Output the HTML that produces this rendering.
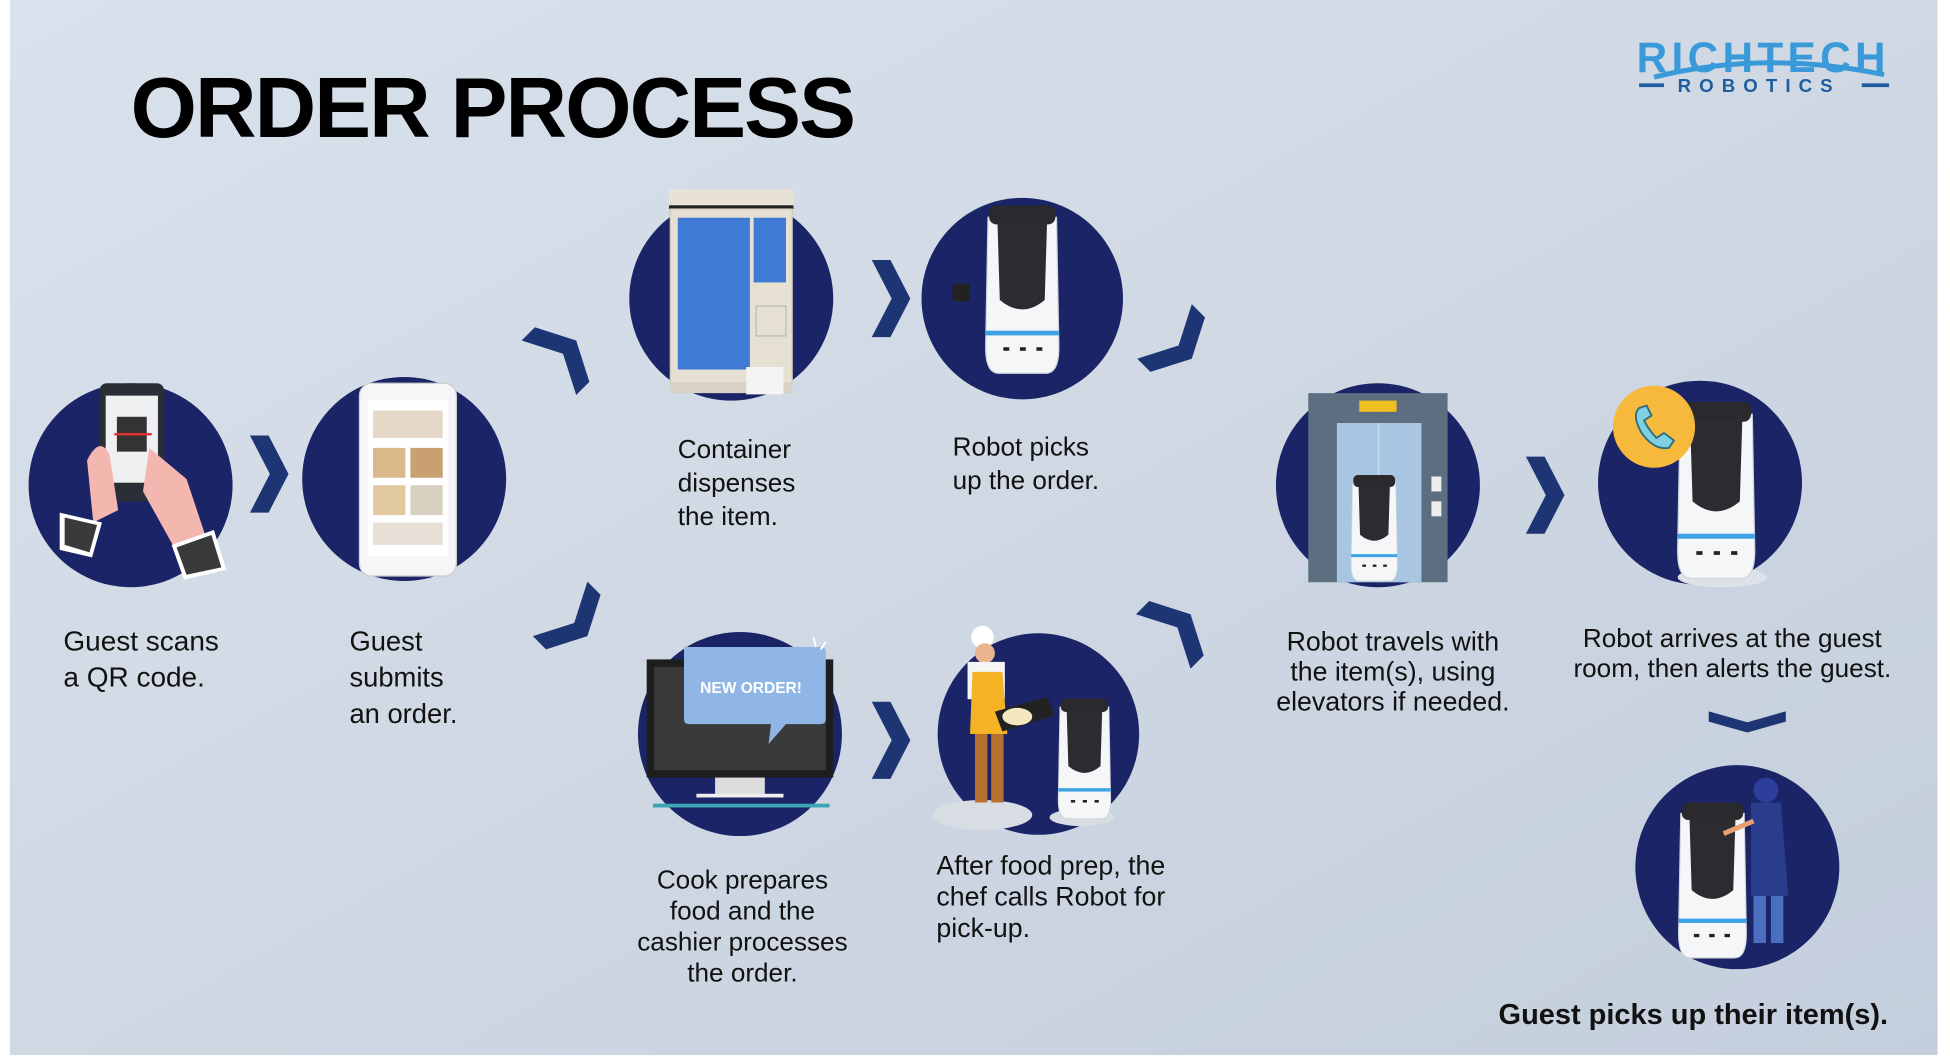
<!DOCTYPE html>
<html><head><meta charset="utf-8">
<style>
html,body{margin:0;padding:0;width:1950px;height:1060px;overflow:hidden;background:#fff}
svg{display:block}
text{font-family:"Liberation Sans",Arial,sans-serif;fill:#111}
</style></head><body>
<svg width="1950" height="1060" viewBox="0 0 1568 852" preserveAspectRatio="none" xmlns="http://www.w3.org/2000/svg">
<defs>
<linearGradient id="bg" x1="0" y1="0" x2="1" y2="1">
<stop offset="0" stop-color="#d9e2ec"/><stop offset="0.5" stop-color="#cfd8e3"/><stop offset="1" stop-color="#c4cfdd"/>
</linearGradient>
<g id="robot">
<path d="M-29,-132 L29,-132 L31,-22 Q31,0 20,0 L-20,0 Q-31,0 -31,-22 Z" fill="#f4f6f8" stroke="#d0d5da" stroke-width="1"/>
<rect x="-28" y="-142" width="56" height="16" rx="6" fill="#2a2a2e"/>
<path d="M-21,-128 L21,-128 L19,-62 Q0,-46 -19,-62 Z" fill="#2b2b30"/>
<rect x="-31" y="-36" width="62" height="4" fill="#3ea3e6"/>
<rect x="-16" y="-22" width="5" height="3" fill="#222"/><rect x="-2" y="-22" width="5" height="3" fill="#222"/><rect x="12" y="-22" width="5" height="3" fill="#222"/>
</g>
<polygon id="chev" points="-15,-31 0,-31 16,0 0,31 -15,31 1,0" fill="#1e3573"/>
</defs>
<rect width="1568" height="852" fill="#ffffff"/>
<rect x="8" y="0" width="1550" height="848" fill="url(#bg)"/>

<text x="105" y="110" font-size="68.5" font-weight="bold" fill="#000" style="fill:#000" letter-spacing="-1.5">ORDER PROCESS</text>

<!-- logo -->
<text x="1316" y="58" font-size="34" font-weight="bold" style="fill:#3a9ad9" letter-spacing="3.5">RICHTECH</text>
<path d="M1330,62 Q1420,40 1515,60" stroke="#3a9ad9" stroke-width="4" fill="none"/>
<rect x="1318" y="67" width="20" height="3" fill="#1e5e9e"/>
<rect x="1497" y="67" width="22" height="3" fill="#1e5e9e"/>
<text x="1349" y="74" font-size="15" font-weight="bold" style="fill:#1e5e9e" letter-spacing="6.5">ROBOTICS</text>

<!-- circles -->
<g fill="#1b2466">
<circle cx="105" cy="390" r="82"/>
<circle cx="325" cy="385" r="82"/>
<circle cx="588" cy="240" r="82"/>
<circle cx="822" cy="240" r="81"/>
<circle cx="595" cy="590" r="82"/>
<circle cx="835" cy="590" r="81"/>
<circle cx="1108" cy="390" r="82"/>
<circle cx="1367" cy="388" r="82"/>
<circle cx="1397" cy="697" r="82"/>
</g>

<!-- step 1: phone & hands -->
<rect x="80" y="308" width="52" height="95" rx="6" fill="#2a2e36"/>
<rect x="85" y="318" width="42" height="70" fill="#eef0f2"/>
<rect x="94" y="335" width="24" height="28" fill="#333"/>
<rect x="92" y="348" width="30" height="2" fill="#d33"/>
<path d="M70,370 Q80,350 88,365 L95,410 L75,420 Z" fill="#f4b7b0"/>
<path d="M120,360 L150,385 L165,430 L140,440 L115,395 Z" fill="#f4b7b0"/>
<polygon points="48,412 82,420 74,448 48,442" fill="#fff"/><polygon points="52,416 78,422 72,444 52,438" fill="#3a3a3a"/>
<polygon points="138,438 172,426 182,458 148,466" fill="#fff"/><polygon points="142,440 170,430 178,456 150,462" fill="#3a3a3a"/>

<!-- step 2: phone app -->
<rect x="289" y="308" width="78" height="155" rx="10" fill="#f6f6f8" stroke="#ccc"/>
<rect x="296" y="322" width="64" height="125" fill="#fff"/>
<rect x="300" y="330" width="56" height="22" fill="#e6d8c8"/>
<rect x="300" y="360" width="26" height="24" fill="#d9b98a"/><rect x="330" y="360" width="26" height="24" fill="#c9a070"/>
<rect x="300" y="390" width="26" height="24" fill="#e2c9a0"/><rect x="330" y="390" width="26" height="24" fill="#d8d0c0"/>
<rect x="300" y="420" width="56" height="18" fill="#e8e0d6"/>

<!-- step 3: container machine -->
<rect x="538" y="152" width="100" height="14" fill="#e8e2d6"/>
<rect x="538" y="165" width="100" height="3" fill="#222"/>
<rect x="539" y="168" width="98" height="140" fill="#e6e0d2" stroke="#cfc8b8"/>
<rect x="545" y="175" width="58" height="122" fill="#3f7bd4"/>
<rect x="606" y="175" width="26" height="52" fill="#3f7bd4"/>
<rect x="608" y="246" width="24" height="24" fill="#e6e0d2" stroke="#bbb"/>
<rect x="539" y="308" width="98" height="8" fill="#d8d2c4"/>
<rect x="600" y="295" width="30" height="22" fill="#f4f4f4"/>

<!-- step 4 robot -->
<use href="#robot" transform="translate(822,300) scale(0.95)"/>
<rect x="766" y="228" width="14" height="14" rx="2" fill="#222"/>

<!-- step 5 monitor -->
<rect x="520" y="530" width="150" height="95" fill="#1e1e1e"/>
<rect x="526" y="536" width="138" height="83" fill="#3a3a3c"/>
<rect x="575" y="625" width="40" height="14" fill="#ddd"/>
<rect x="560" y="638" width="70" height="3" fill="#eee"/>
<rect x="525" y="646" width="142" height="3" fill="#3aa6b4"/>
<path d="M550,520 L660,520 Q664,520 664,524 L664,578 Q664,582 660,582 L632,582 L618,598 L620,582 L554,582 Q550,582 550,578 Z" fill="#8fb6e4"/>
<text x="563" y="557" font-size="12.5" font-weight="bold" style="fill:#fff">NEW ORDER!</text>
<path d="M654,512 L656,520 M664,516 L660,522" stroke="#fff" stroke-width="1.5"/>

<!-- step 6 chef + robot -->
<ellipse cx="790" cy="655" rx="40" ry="12" fill="#d8dde3"/>
<circle cx="790" cy="512" r="9" fill="#fff"/>
<circle cx="792" cy="525" r="8" fill="#e9b48e"/>
<rect x="778" y="532" width="30" height="30" fill="#f4f4f4"/>
<path d="M782,540 L806,540 L810,590 L780,590 Z" fill="#f3b324"/>
<rect x="784" y="590" width="10" height="55" fill="#b8702e"/><rect x="797" y="590" width="10" height="55" fill="#b8702e"/>
<path d="M800,572 L842,560 L848,575 L806,588 Z" fill="#222"/>
<ellipse cx="818" cy="576" rx="12" ry="7" fill="#f4e8c0"/>
<ellipse cx="870" cy="657" rx="26" ry="7" fill="#d8dde3"/>
<use href="#robot" transform="translate(872,658) scale(0.68)"/>

<!-- step 7 elevator -->
<rect x="1052" y="316" width="112" height="152" fill="#5c6e80"/>
<rect x="1093" y="322" width="30" height="9" fill="#f0c020"/>
<rect x="1075" y="340" width="68" height="128" fill="#a8c6e2"/>
<rect x="1108" y="340" width="1" height="128" fill="#c8dcee"/>
<rect x="1151" y="383" width="8" height="12" fill="#eee"/><rect x="1151" y="403" width="8" height="12" fill="#eee"/>
<use href="#robot" transform="translate(1105,467) scale(0.6)"/>

<!-- step 8 robot with phone bubble -->
<ellipse cx="1385" cy="464" rx="36" ry="8" fill="#dde2e8"/>
<use href="#robot" transform="translate(1380,465) scale(1.0)"/>
<circle cx="1330" cy="343" r="33" fill="#f6b93b"/>
<path d="M1318,328 Q1312,334 1320,348 Q1330,362 1342,360 L1346,354 L1338,348 L1332,352 Q1326,346 1322,338 L1328,334 L1324,326 Z" fill="#7fd0e0" stroke="#2a6f80" stroke-width="1.5"/>

<!-- step 9 robot & person -->
<use href="#robot" transform="translate(1377,770) scale(0.88) scale(-1,1)"/>
<circle cx="1420" cy="635" r="10" fill="#2d3e9a"/>
<path d="M1408,645 L1432,645 L1438,720 L1408,720 Z" fill="#2a3c8c"/>
<rect x="1410" y="720" width="10" height="38" fill="#4a6ec0"/><rect x="1424" y="720" width="10" height="38" fill="#4a6ec0"/>
<path d="M1410,660 L1386,670" stroke="#e9a070" stroke-width="4"/>

<!-- chevrons -->
<use href="#chev" transform="translate(216,381)"/>
<use href="#chev" transform="translate(452,285) rotate(-45)"/>
<use href="#chev" transform="translate(461,500) rotate(45)"/>
<use href="#chev" transform="translate(716,240)"/>
<use href="#chev" transform="translate(947,277) rotate(45)"/>
<use href="#chev" transform="translate(716,595)"/>
<use href="#chev" transform="translate(946,505) rotate(-45)"/>
<use href="#chev" transform="translate(1242,398)"/>
<use href="#chev" transform="translate(1405,580) rotate(90) scale(0.55,1)"/>

<!-- labels -->
<g font-size="21">
<text x="51" y="523" font-size="22.5">Guest scans</text><text x="51" y="552" font-size="22.5">a QR code.</text>
<text x="281" y="523" font-size="22">Guest</text><text x="281" y="552" font-size="22">submits</text><text x="281" y="581" font-size="22">an order.</text>
<text x="545" y="368">Container</text><text x="545" y="395">dispenses</text><text x="545" y="422">the item.</text>
<text x="766" y="366">Robot picks</text><text x="766" y="393">up the order.</text>
<g text-anchor="middle"><text x="597" y="714">Cook prepares</text><text x="597" y="739">food and the</text><text x="597" y="764">cashier processes</text><text x="597" y="789">the order.</text></g>
<text x="753" y="703" font-size="21.5">After food prep, the</text><text x="753" y="728" font-size="21.5">chef calls Robot for</text><text x="753" y="753" font-size="21.5">pick-up.</text>
<g text-anchor="middle" font-size="21.5"><text x="1120" y="523">Robot travels with</text><text x="1120" y="547">the item(s), using</text><text x="1120" y="571">elevators if needed.</text></g>
<g text-anchor="middle"><text x="1393" y="520">Robot arrives at the guest</text><text x="1393" y="544">room, then alerts the guest.</text></g>
</g>
<text x="1205" y="823" font-size="23.3" font-weight="bold">Guest picks up their item(s).</text>
</svg>
</body></html>
